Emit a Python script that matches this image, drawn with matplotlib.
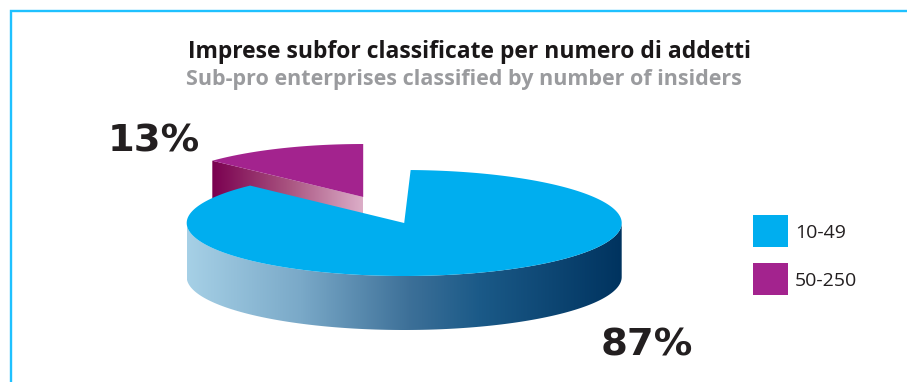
import numpy as np
import matplotlib
matplotlib.use("Agg")
import matplotlib.pyplot as plt
from matplotlib.colors import LinearSegmentedColormap
from matplotlib.patches import Polygon, Rectangle

title_it = "Imprese subfor classificate per numero di addetti"
title_en = "Sub-pro enterprises classified by number of insiders"
categories = ["10-49", "50-250"]
shares = [87, 13]
share_labels = ["87%", "13%"]
colors = ["#00aeef", "#a3238e"]

W, H = 907, 382
fig = plt.figure(figsize=(W / 100, H / 100), dpi=100)
ax = fig.add_axes([0, 0, 1, 1])
ax.set_xlim(0, W)
ax.set_ylim(H, 0)
ax.axis("off")

# Pie geometry in canvas units
cx, cy = 404.2, 223.0
rx, ry = 217.5, 53.0
depth = 54.0
purple_offset = (-41.0, -26.0)
purple_rx = 207.0
start = 88.3  # parameter angle where the large slice begins


def arc(x0, y0, a0, a1, n=200, radius_x=rx):
    t = np.radians(np.linspace(a0, a1, n))
    return np.column_stack([x0 + radius_x * np.cos(t), y0 - ry * np.sin(t)])


def gradient_fill(verts, stops, zorder):
    cmap = LinearSegmentedColormap.from_list("side", stops)
    xs = verts[:, 0]
    ys = verts[:, 1]
    extent = (xs.min(), xs.max(), ys.max(), ys.min())
    grad = np.linspace(0, 1, 256)[None, :]
    im = ax.imshow(grad, cmap=cmap, extent=extent, aspect="auto",
                   zorder=zorder, interpolation="bilinear")
    clip = Polygon(verts, closed=True, transform=ax.transData,
                   fc="none", ec="none")
    ax.add_patch(clip)
    im.set_clip_path(clip)


sweep_big = 360 * shares[0] / sum(shares)
sweep_small = 360 * shares[1] / sum(shares)
big_end = start - sweep_big  # clockwise
small_a0 = start + 1.7
small_a1 = small_a0 + sweep_small

# Small slice: displaced up and to the left
px, py = cx + purple_offset[0], cy + purple_offset[1]
small_arc = arc(px, py, small_a0, small_a1, 80, purple_rx)
small_top = np.vstack([[px, py], small_arc])
corner = small_arc[-1]

# Cut face of the small slice, running from the outer corner to the centre
face = np.array([corner, [px, py], [px, py + depth], corner + [0, depth]])
gradient_fill(face, ["#7a0050", "#a8527f", "#dcaec8"], 2)
ax.add_patch(Polygon(small_top, closed=True, fc=colors[1], ec="none", zorder=3))

# Rim of the large slice: only the front half of the ellipse shows
front = arc(cx, cy, 180, 360, 200)
rim = np.vstack([front, front[::-1] + [0, depth]])
gradient_fill(rim, [(0.0, "#a6d0e6"), (0.26, "#7aa9c8"), (0.51, "#3d7098"),
                    (0.67, "#1b5a88"), (1.0, "#00335f")], 4)

# Top of the large slice
big_top = np.vstack([[cx, cy], arc(cx, cy, start, big_end, 400)])
ax.add_patch(Polygon(big_top, closed=True, fc=colors[0], ec="none", zorder=5))

# Frame along the top and left edges
ax.plot([10.5, 10.5, W], [H, 11, 11], color="#1fc1ff", lw=1.7, zorder=1,
        solid_joinstyle="miter")

font = "Open Sans"
ax.text(469.5, 52, title_it, ha="center", va="center", fontsize=16.5,
        fontweight="bold", family=font, color="#1a1718")
ax.text(463.5, 79.5, title_en, ha="center", va="center", fontsize=15.5,
        fontweight="bold", family=font, color="#9a9b9e")

ax.text(154, 137, share_labels[1], ha="center", va="center_baseline",
        fontsize=27.7, fontweight="bold", family="DejaVu Sans", color="#231f20")
ax.text(647, 341, share_labels[0], ha="center", va="center_baseline",
        fontsize=27.7, fontweight="bold", family="DejaVu Sans", color="#231f20")

# Legend
legend_y = [215, 263]
for name, color, y in zip(categories, colors, legend_y):
    ax.add_patch(Rectangle((753, y), 35, 32, fc=color, ec="none", zorder=6))
    ax.text(795, y + 18, name, ha="left", va="center", fontsize=14,
            family=font, color="#231f20")

fig.savefig("out.png", dpi=100)
